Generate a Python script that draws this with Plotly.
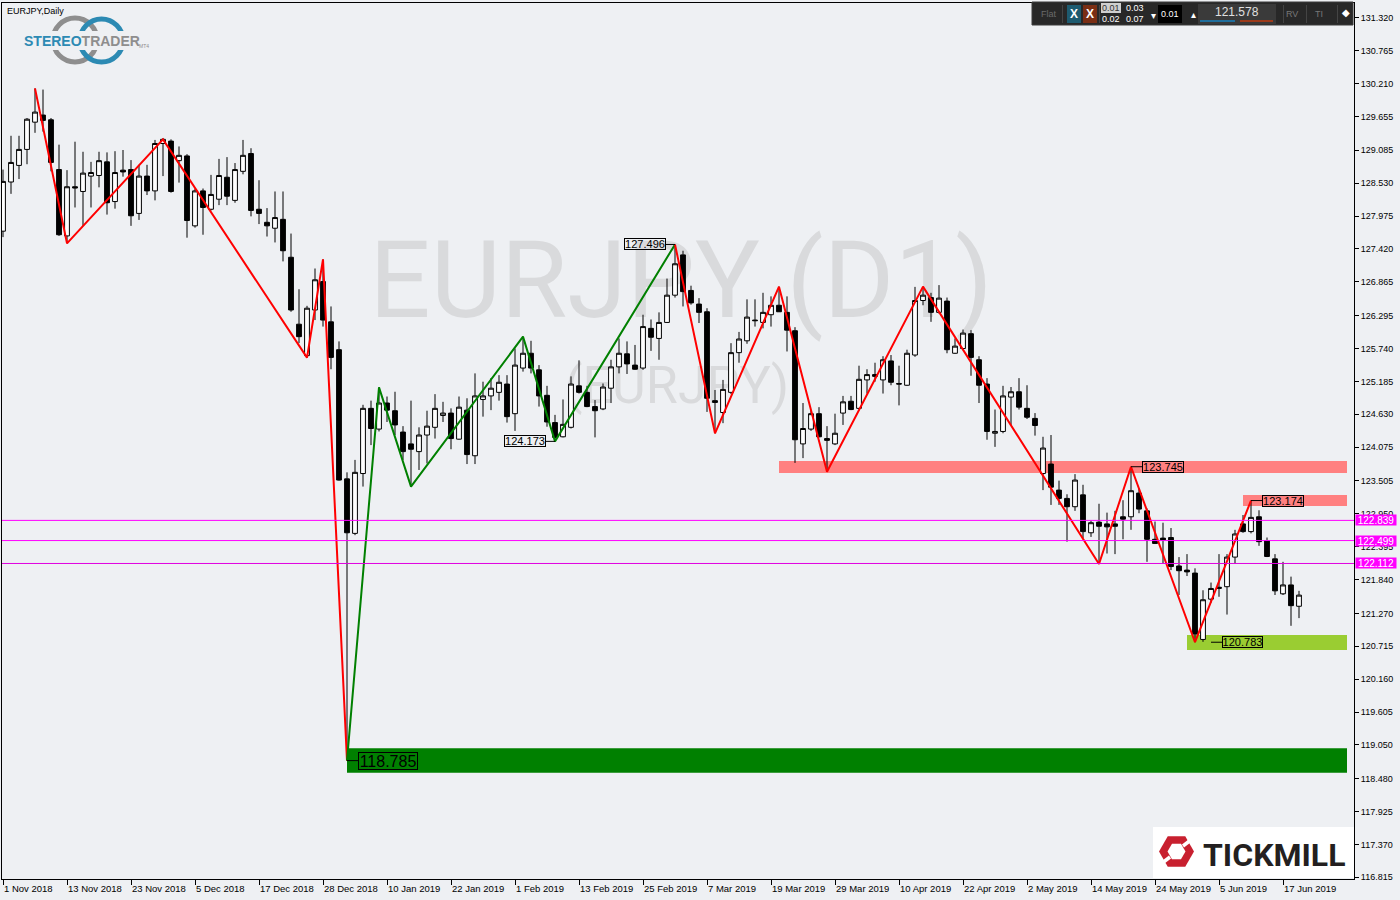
import math
import plotly.graph_objects as go

# ---------------- data ----------------
opens = [127.72,128.55,128.83,129.10,129.56,129.68,129.60,128.76,127.64,128.47,
128.39,128.65,128.66,128.89,128.22,128.75,128.76,128.02,128.65,128.40,
129.20,129.24,128.91,128.99,127.81,128.40,128.09,128.26,128.63,128.24,
128.73,129.03,128.09,127.87,127.77,127.92,127.28,126.15,125.62,126.39,
126.87,126.19,125.72,123.54,122.62,123.63,124.73,124.38,124.82,124.69,
124.33,124.13,124.00,124.28,124.41,124.61,124.65,124.21,124.70,123.93,
124.88,124.94,125.00,125.14,124.64,125.41,125.66,125.38,124.95,124.49,
124.25,124.41,125.11,125.00,124.76,124.72,125.07,125.43,125.65,125.46,
125.41,126.08,125.91,126.18,126.64,127.32,126.72,126.49,126.36,124.86,
124.66,125.00,125.67,125.87,126.22,126.18,126.31,126.47,126.35,126.04,
124.13,124.38,124.64,124.22,124.13,124.65,124.85,124.73,125.21,125.30,
125.21,125.53,125.15,125.12,125.63,126.55,126.60,126.35,126.54,125.66,
125.74,125.99,125.55,125.14,124.31,124.34,124.92,125.01,124.73,124.56,
123.63,123.79,123.35,123.21,123.07,123.27,122.63,122.81,122.78,122.78,
122.90,122.90,123.30,123.00,122.52,122.54,122.55,122.07,122.00,121.95,
120.83,121.51,121.69,121.72,122.22,122.78,122.65,122.90,122.50,122.19,
121.60,121.75,121.39]
highs = [128.76,129.33,129.33,129.63,130.13,130.11,129.63,129.18,128.75,129.23,
129.06,128.89,129.06,129.05,129.07,129.09,128.92,128.84,128.84,129.26,
129.29,129.27,129.15,129.02,128.44,128.44,128.67,128.94,128.97,128.87,
129.26,129.12,128.58,128.11,128.39,128.39,127.68,126.74,126.46,127.09,
127.245,126.45,125.86,123.65,123.86,124.79,124.86,125.085,124.93,125.01,
124.43,124.86,124.41,124.69,124.97,124.84,124.73,124.93,124.90,125.32,
125.18,125.24,125.29,125.29,125.74,125.94,125.87,125.46,125.11,124.62,
124.88,125.27,125.54,125.11,124.87,125.15,125.55,125.91,125.86,125.80,
126.31,126.23,126.35,126.92,127.496,127.39,126.80,126.59,126.42,125.04,
125.21,125.83,126.02,126.57,126.57,126.68,126.62,126.784,126.62,126.10,
124.82,124.70,124.75,124.43,124.64,124.94,124.94,125.45,125.39,125.50,
125.61,125.63,125.45,125.72,126.78,126.784,126.68,126.81,126.60,125.91,
126.06,126.05,125.61,125.24,124.71,125.11,125.09,125.24,125.12,124.65,
124.25,124.28,123.51,123.28,123.62,123.44,122.83,123.12,122.97,123.00,
123.18,123.745,123.38,123.04,122.82,122.80,122.71,122.22,122.27,122.03,
121.66,121.79,122.27,122.27,122.68,122.93,123.174,123.01,122.55,122.27,
122.14,121.89,121.65]
lows = [127.62,128.35,128.60,128.85,129.38,129.40,128.73,127.64,127.515,128.12,
127.81,128.12,128.46,128.00,128.10,128.64,127.81,127.91,128.33,128.24,
128.65,128.37,128.54,127.61,127.78,127.66,128.07,128.16,128.16,128.20,
128.68,127.97,127.84,127.63,127.53,127.21,126.36,125.83,125.586,126.22,
126.11,125.39,123.51,118.785,122.59,123.41,124.11,124.34,124.50,124.28,
123.86,123.408,123.69,123.80,124.22,124.50,124.04,124.20,123.79,123.79,
124.59,124.70,124.86,124.49,124.35,125.35,125.32,124.76,124.42,124.173,
124.24,124.39,124.98,124.75,124.24,124.70,124.82,125.32,125.31,125.38,
125.38,125.70,125.55,126.17,126.60,126.45,126.48,126.17,124.67,124.308,
124.48,124.97,125.50,125.82,126.11,126.08,126.11,126.36,125.69,123.81,
123.89,124.35,124.24,123.661,124.11,124.45,124.70,124.71,124.98,125.18,
124.98,125.12,124.78,125.11,125.60,126.47,126.19,126.33,125.66,125.65,
125.72,125.28,124.82,124.20,124.08,124.31,124.45,124.71,124.55,124.27,
123.35,123.10,123.10,122.48,123.00,122.54,122.56,122.103,122.28,122.27,
122.52,122.68,122.96,122.14,122.44,122.11,122.00,121.58,121.90,120.783,
120.79,121.45,121.55,121.25,122.11,122.63,122.62,122.41,122.22,121.58,
121.58,121.06,121.19]
closes = [128.56,128.88,129.10,129.61,129.73,129.59,128.88,127.66,128.47,128.45,
128.70,128.71,128.91,128.20,128.71,128.72,127.98,128.65,128.40,129.20,
129.27,128.39,129.00,127.90,128.40,128.12,128.34,128.66,128.31,128.76,
129.00,128.07,128.02,127.81,127.95,127.39,126.39,125.94,126.42,126.90,
126.22,125.59,123.52,122.63,123.65,124.73,124.39,124.82,124.70,124.45,
124.00,124.04,124.28,124.43,124.73,124.65,124.22,124.75,123.95,124.94,
124.94,125.07,125.17,124.59,125.46,125.66,125.41,124.94,124.50,124.24,
124.46,125.14,125.00,124.76,124.69,125.09,125.43,125.66,125.48,125.39,
126.11,125.93,126.18,126.64,127.17,126.70,126.51,126.35,124.90,124.83,
125.05,125.67,125.90,126.27,126.21,126.35,126.47,126.36,126.05,124.20,
124.39,124.64,124.25,124.19,124.31,124.84,124.71,125.22,125.30,125.27,
125.55,125.17,125.14,125.66,126.55,126.64,126.35,126.59,125.72,125.78,
126.00,125.59,125.12,124.34,124.34,124.94,125.01,124.75,124.58,124.44,
124.06,123.40,123.21,123.07,123.52,122.65,122.80,122.74,122.73,122.74,
122.86,123.34,123.03,122.52,122.45,122.51,122.06,121.99,121.97,120.92,
121.50,121.69,121.71,122.22,122.61,122.65,122.89,122.48,122.23,121.65,
121.75,121.40,121.578]
bar_index = list(range(len(opens)))

date_tick_index = list(range(0, 161, 8))
date_tick_labels = ["1 Nov 2018", "13 Nov 2018", "23 Nov 2018", "5 Dec 2018", "17 Dec 2018",
                    "28 Dec 2018", "10 Jan 2019", "22 Jan 2019", "1 Feb 2019", "13 Feb 2019",
                    "25 Feb 2019", "7 Mar 2019", "19 Mar 2019", "29 Mar 2019", "10 Apr 2019",
                    "22 Apr 2019", "2 May 2019", "14 May 2019", "24 May 2019", "5 Jun 2019",
                    "17 Jun 2019"]

price_tick_labels = ["131.320", "130.765", "130.210", "129.655", "129.085", "128.530", "127.975",
                     "127.420", "126.865", "126.295", "125.740", "125.185", "124.630", "124.075",
                     "123.505", "122.950", "122.395", "121.840", "121.270", "120.715", "120.160",
                     "119.605", "119.050", "118.480", "117.925", "117.370", "116.815"]
price_tick_values = [float(t) for t in price_tick_labels]

zigzag_red_a_index = [4, 8, 20, 38, 40, 43]
zigzag_red_a_price = [130.13, 127.515, 129.27, 125.586, 127.245, 118.785]
zigzag_green_index = [43, 47, 51, 65, 69, 84]
zigzag_green_price = [118.785, 125.085, 123.408, 125.94, 124.173, 127.496]
zigzag_red_b_index = [84, 89, 97, 103, 115, 137, 141, 149, 156]
zigzag_red_b_price = [127.496, 124.308, 126.784, 123.661, 126.784, 122.103, 123.745, 120.783, 123.174]

zone_start = [97, 155, 43, 148]
zone_end = [168, 168, 168, 168]
zone_low = [123.639, 123.082, 118.581, 120.652]
zone_high = [123.841, 123.267, 118.992, 120.905]
zone_color = ["#FF8080", "#FF8080", "#008000", "#9ACD32"]

level_price = [122.839, 122.499, 122.112]
level_text = ["122.839", "122.499", "122.112"]
level_color = ["#FF00FF", "#FF00FF", "#E000E0"]

pivot_label_index = [84, 69, 141, 156, 151, 43]
pivot_label_price = [127.496, 124.173, 123.745, 123.174, 120.783, 118.785]
pivot_label_text = ["127.496", "124.173", "123.745", "123.174", "120.783", "118.785"]
pivot_label_offset = [-30.5, -30.5, 31.5, 32, 31.8, 41]
pivot_label_size = [11, 11, 11, 11, 11, 16]
pivot_label_box = [(42, 12), (42, 12), (42, 12), (42, 12), (41, 12), (60, 18)]

last_price = "121.578"

# ---------------- layout geometry ----------------
W, H = 1400, 900
ML, MR, MT, MB = 2, 46, 3, 21
PW, PH = W - ML - MR, H - MT - MB
FONT = "Liberation Sans, Arial, sans-serif"
BG = "#EEF0F3"


def px(x):
    return (x - ML) / PW


def py(y):
    return (H - MB - y) / PH


shapes = []
annotations = []


def prect(x0, y0, x1, y1, fill, line_color=None, lw=0, layer="above"):
    shapes.append(dict(type="rect", xref="paper", yref="paper", x0=px(x0), x1=px(x1),
                       y0=py(y1), y1=py(y0), fillcolor=fill, layer=layer,
                       line=dict(color=line_color or fill, width=lw)))


def ptext(x, y, text, size=9, color="black", xanchor="center", family=FONT, **kw):
    annotations.append(dict(xref="paper", yref="paper", x=px(x), y=py(y), text=text,
                            showarrow=False, xanchor=xanchor, yanchor="middle",
                            font=dict(family=family, size=size, color=color), **kw))


fig = go.Figure()

# watermark (base subplot, underneath candles)
fig.add_trace(go.Scatter(x=[px(681)], y=[py(290)], mode="text", text=["EURJPY (D1)"],
                         textfont=dict(family="Roboto", size=108, color="#D9DADC"),
                         textposition="middle center", hoverinfo="skip", showlegend=False,
                         xaxis="x", yaxis="y"))
fig.add_trace(go.Scatter(x=[px(677)], y=[py(390)], mode="text", text=["(EURJPY)"],
                         textfont=dict(family="Roboto", size=52, color="#D9DADC"),
                         textposition="middle center", hoverinfo="skip", showlegend=False,
                         xaxis="x", yaxis="y"))

# candles
fig.add_trace(go.Candlestick(
    x=bar_index, open=opens, high=highs, low=lows, close=closes,
    increasing=dict(line=dict(color="black", width=1), fillcolor="white"),
    decreasing=dict(line=dict(color="black", width=1), fillcolor="black"),
    whiskerwidth=0, hoverinfo="skip", showlegend=False, xaxis="x2", yaxis="y2"))

# zigzags
for xs, ys, col in [(zigzag_red_a_index, zigzag_red_a_price, "#FF0000"),
                    (zigzag_green_index, zigzag_green_price, "#008000"),
                    (zigzag_red_b_index, zigzag_red_b_price, "#FF0000")]:
    fig.add_trace(go.Scatter(x=xs, y=ys, mode="lines", line=dict(color=col, width=2),
                             hoverinfo="skip", showlegend=False, xaxis="x2", yaxis="y2"))

# zones
for x0, x1, lo, hi, col in zip(zone_start, zone_end, zone_low, zone_high, zone_color):
    shapes.append(dict(type="rect", xref="x2", yref="y2", x0=x0, x1=x1, y0=lo, y1=hi,
                       fillcolor=col, line=dict(width=0), layer="below"))

# levels
for p, t, c in zip(level_price, level_text, level_color):
    shapes.append(dict(type="line", xref="paper", yref="y2", x0=0, x1=1, y0=p, y1=p,
                       line=dict(color=c, width=1), layer="above"))
    annotations.append(dict(xref="paper", yref="y2", x=1, y=p, xanchor="left", yanchor="middle",
                            xshift=1, text=t, showarrow=False, bgcolor="#FF00FF",
                            borderpad=0, width=40, height=10,
                            font=dict(family=FONT, size=10, color="white")))

# pivot labels
for i, p, t, off, sz, (bw, bh) in zip(pivot_label_index, pivot_label_price, pivot_label_text,
                                       pivot_label_offset, pivot_label_size, pivot_label_box):
    annotations.append(dict(xref="x2", yref="y2", x=i, y=p, text=t, showarrow=True,
                            arrowhead=0, arrowwidth=1, arrowcolor="black", ax=off, ay=0,
                            axref="pixel", ayref="pixel", standoff=0,
                            bordercolor="black", borderwidth=1, borderpad=0,
                            width=bw - 2, height=bh - 2, bgcolor="rgba(0,0,0,0)",
                            font=dict(family=FONT, size=sz, color="black")))

# date labels (left aligned right of their ticks)
for k, lab in zip(date_tick_index, date_tick_labels):
    annotations.append(dict(xref="x2", yref="paper", x=k, y=0, xanchor="left", yanchor="top",
                            xshift=-1, yshift=-2, text=lab, showarrow=False,
                            font=dict(family=FONT, size=9.5, color="black")))

# top-left title and logo
ptext(5, 11, "EURJPY,Daily", size=9, xanchor="left")
shapes.append(dict(type="circle", xref="paper", yref="paper", x0=px(53), x1=px(97),
                   y0=py(62), y1=py(18), line=dict(color="#8E8E8E", width=5), layer="above"))
shapes.append(dict(type="circle", xref="paper", yref="paper", x0=px(80), x1=px(123),
                   y0=py(62), y1=py(19), line=dict(color="#2C8AB3", width=5), layer="above"))
prect(44, 31, 132, 50, BG)
ptext(82, 41, "<b><span style='color:#2C8AB3'>STEREO</span><span style='color:#8E8E8E'>TRADER</span></b>",
      size=14, family="Liberation Sans")
ptext(144, 46, "MT4", size=5, color="#8E8E8E")

# toolbar (top right)
prect(1032, 2, 1353, 25, "#282828", "#3A3A3A", 1)
ptext(1049, 14, "Flat", size=9, color="#6A6A6A")
for sx in [1062, 1099, 1283, 1306, 1337]:
    prect(sx, 5, sx + 1, 23, "#444444")
prect(1067, 5, 1081, 23, "#1E5B70")
ptext(1074, 14, "<b>X</b>", size=12, color="white")
prect(1083, 5, 1097, 23, "#7A2E14")
ptext(1090, 14, "<b>X</b>", size=12, color="white")
prect(1101, 3, 1121, 13, "#CFCFCF")
ptext(1111, 8, "0.01", size=9, color="#333333")
ptext(1111, 19, "0.02", size=9, color="white")
ptext(1135, 8, "0.03", size=9, color="white")
ptext(1135, 19, "0.07", size=9, color="white")
ptext(1153, 15, "▾", size=10, color="white")
prect(1158, 5, 1182, 23, "#000000")
ptext(1170, 14, "0.01", size=9, color="white")
ptext(1193, 14, "▴", size=10, color="white")
prect(1198, 4, 1276, 24, "#3A3A3A")
ptext(1237, 12, last_price, size=12, color="#E0E0E0")
prect(1200, 20, 1235, 22, "#1F6E9C")
prect(1240, 20, 1273, 22, "#9C3A1A")
ptext(1292, 14, "RV", size=9, color="#777777")
ptext(1319, 14, "TI", size=9, color="#777777")
ptext(1346, 13, "◆", size=10, color="white")

# Tickmill logo (bottom right)
prect(1153, 827, 1354, 878, "white")


def hexpath(cx, cy, r):
    pts = [(cx + r * math.cos(math.radians(a)), cy + r * math.sin(math.radians(a)))
           for a in range(0, 360, 60)]
    return "M " + " L ".join(f"{px(x):.5f},{py(y):.5f}" for x, y in pts) + " Z"


shapes.append(dict(type="path", xref="paper", yref="paper", path=hexpath(1176.5, 851.5, 17.5),
                   fillcolor="#C8202F", line=dict(width=0), layer="above"))
shapes.append(dict(type="path", xref="paper", yref="paper", path=hexpath(1176.5, 851.5, 9),
                   fillcolor="white", line=dict(width=0), layer="above"))
shapes.append(dict(type="line", xref="paper", yref="paper", x0=px(1183), y0=py(846),
                   x1=px(1196), y1=py(836), line=dict(color="white", width=3.5), layer="above"))
shapes.append(dict(type="line", xref="paper", yref="paper", x0=px(1170), y0=py(857),
                   x1=px(1157), y1=py(867), line=dict(color="white", width=3.5), layer="above"))
ptext(1201, 855, "<b>TICKMILL</b>", size=32, color="#231F20", xanchor="left", family="Roboto")

fig.update_layout(
    width=W, height=H, margin=dict(l=ML, r=MR, t=MT, b=MB, pad=0),
    paper_bgcolor=BG, plot_bgcolor=BG, showlegend=False,
    boxgap=0.25, boxgroupgap=0.2,
    xaxis=dict(range=[0, 1], visible=False, fixedrange=True),
    yaxis=dict(range=[0, 1], visible=False, fixedrange=True),
    xaxis2=dict(overlaying="x", anchor="y2", range=[-0.125, 168.875], showgrid=False,
                zeroline=False, showline=True, mirror=True, linecolor="black", linewidth=1,
                ticks="outside", ticklen=5, tickcolor="black", tickvals=date_tick_index,
                showticklabels=False, rangeslider=dict(visible=False)),
    yaxis2=dict(overlaying="y", anchor="x2", side="right", range=[116.787, 131.571],
                showgrid=False, zeroline=False, showline=True, mirror=True, linecolor="black",
                linewidth=1, ticks="outside", ticklen=4, tickcolor="black",
                tickvals=price_tick_values, ticktext=price_tick_labels,
                tickfont=dict(family=FONT, size=9, color="black")),
    shapes=shapes, annotations=annotations,
)

fig.write_html("out.html", config={"displayModeBar": False},
               post_script="document.body.style.margin='0px';")
